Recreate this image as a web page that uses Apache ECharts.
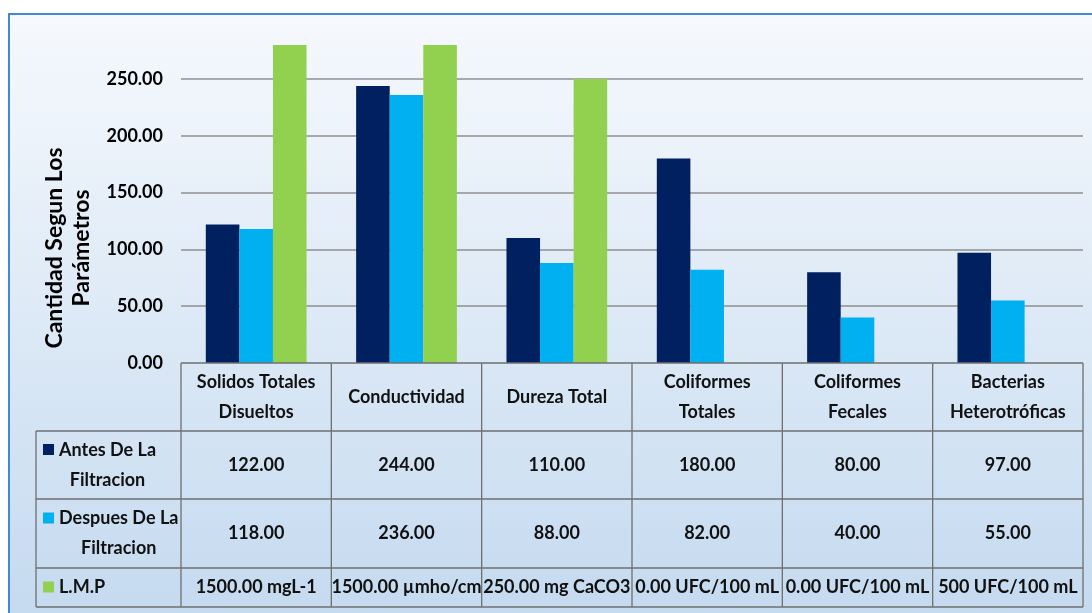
<!DOCTYPE html>
<html>
<head>
<meta charset="utf-8">
<script src="https://cdn.jsdelivr.net/npm/echarts@6/dist/echarts.min.js"></script>
<style>
html,body{margin:0;padding:0;background:#fff;}
#c{width:1092px;height:613px;}
</style>
</head>
<body>
<div id="c"></div>
<script>
// ---- data ----
const categories = ['Solidos Totales\nDisueltos', 'Conductividad', 'Dureza Total', 'Coliformes\nTotales', 'Coliformes\nFecales', 'Bacterias\nHeterotróficas'];
const seriesNames = ['Antes De La\nFiltracion', 'Despues De La\nFiltracion', 'L.M.P'];
const antes = [122, 244, 110, 180, 80, 97];
const despues = [118, 236, 88, 82, 40, 55];
const lmp = [1500, 1500, 250, 0, 0, null];
const lmpLabels = ['1500.00 mgL-1', '1500.00 µmho/cm', '250.00 mg CaCO3', '0.00 UFC/100 mL', '0.00 UFC/100 mL', '500 UFC/100 mL'];
const yTicks = [0, 50, 100, 150, 200, 250];
const yName = 'Cantidad Segun Los\nParámetros';

// ---- layout ----
const W = 1092, H = 613;
const FONT = 'Lato';
const FS = 18;
const gridLeft = 181, gridRight = 1083, gridTop = 45, gridBottom = 363;
const rowY = [363, 431, 499, 568, 607];
const tableLeft = 36;
const colors = ['#002060', '#00b0f0', '#92d050'];
const lineColor = '#6f6f6f';

const chart = echarts.init(document.getElementById('c'), null, {renderer: 'canvas'});

const n = categories.length;
const colW = (gridRight - gridLeft) / n;
const colX = [];
for (let i = 0; i <= n; i++) colX.push(gridLeft + i * colW);

const measure = (() => {
  const cv = document.createElement('canvas').getContext('2d');
  return (t) => { cv.font = 'bold ' + FS + 'px ' + FONT; return cv.measureText(t).width; };
})();

const g = [];
// background frame
g.push({
  type: 'rect', z: -100, silent: true,
  shape: {x: 9, y: 14, width: 1100, height: 620},
  style: {
    fill: new echarts.graphic.LinearGradient(0, 0, 0, 1, [
      {offset: 0, color: '#f6f9fd'}, {offset: 1, color: '#c3d9ef'}
    ]),
    stroke: '#3f8ad6', lineWidth: 2
  }
});
// y axis name
g.push({
  type: 'text', silent: true, x: 68, y: 248, rotation: Math.PI / 2,
  style: {text: yName, font: 'bold 23px ' + FONT, fill: '#000', align: 'center', verticalAlign: 'middle', lineHeight: 27}
});
// table lines
const hline = (x1, x2, y) => g.push({type: 'line', silent: true, z: 10, shape: {x1, y1: y, x2, y2: y}, style: {stroke: lineColor, lineWidth: 1.3}});
const vline = (x, y1, y2) => g.push({type: 'line', silent: true, z: 10, shape: {x1: x, y1, x2: x, y2}, style: {stroke: lineColor, lineWidth: 1.3}});
hline(gridLeft, gridRight, rowY[0]);
for (let r = 1; r < rowY.length; r++) hline(tableLeft, gridRight, rowY[r]);
vline(tableLeft, rowY[1], rowY[4]);
colX.forEach(x => vline(x, rowY[0], rowY[4]));

const txt = (text, x, y, align) => g.push({
  type: 'text', silent: true, z: 11, x, y,
  style: {text, font: 'bold ' + FS + 'px ' + FONT, fill: '#111', align: align || 'center', verticalAlign: 'middle', lineHeight: 30}
});
// header
categories.forEach((c, i) => txt(c, (colX[i] + colX[i + 1]) / 2, (rowY[0] + rowY[1]) / 2));
// rows
const rowsVals = [antes.map(v => v.toFixed(2)), despues.map(v => v.toFixed(2)), lmpLabels];
rowsVals.forEach((vals, r) => {
  const cy = (rowY[r + 1] + rowY[r + 2]) / 2;
  vals.forEach((v, i) => txt(v, (colX[i] + colX[i + 1]) / 2, cy));
  // legend cell
  const lines = seriesNames[r].split('\n');
  const firstY = cy - (lines.length - 1) * 15;
  g.push({type: 'rect', silent: true, z: 11, shape: {x: 43, y: firstY - 6, width: 11, height: 11}, style: {fill: colors[r]}});
  const w1 = measure(lines[0]);
  txt(lines[0], 59, firstY, 'left');
  for (let k = 1; k < lines.length; k++) txt(lines[k], 59 + w1 / 2, firstY + 30 * k, 'center');
});

const mkSeries = (name, data, color) => ({
  name, type: 'bar', data, barGap: '0%', barCategoryGap: '33%', clip: true,
  itemStyle: {color}, emphasis: {disabled: true}
});

chart.setOption({
  backgroundColor: '#fff',
  animation: false,
  grid: {left: gridLeft, right: W - gridRight, top: gridTop, bottom: H - gridBottom, containLabel: false},
  xAxis: {
    type: 'category', data: categories,
    axisLine: {show: false}, axisTick: {show: false}, axisLabel: {show: false}
  },
  yAxis: {
    type: 'value', min: 0, max: 280, interval: 50,
    axisLine: {show: false}, axisTick: {show: false},
    axisLabel: {
      margin: 18, color: '#000', fontFamily: FONT, fontWeight: 'bold', fontSize: 18,
      showMaxLabel: false,
      formatter: v => (yTicks.indexOf(v) >= 0 ? v.toFixed(2) : '')
    },
    splitLine: {show: true, showMinLine: false, showMaxLine: false, lineStyle: {color: '#8f8f8f', width: 1.5}}
  },
  series: [
    mkSeries(seriesNames[0].replace('\n', ' '), antes, colors[0]),
    mkSeries(seriesNames[1].replace('\n', ' '), despues, colors[1]),
    mkSeries(seriesNames[2], lmp, colors[2])
  ],
  graphic: g
});
</script>
</body>
</html>
